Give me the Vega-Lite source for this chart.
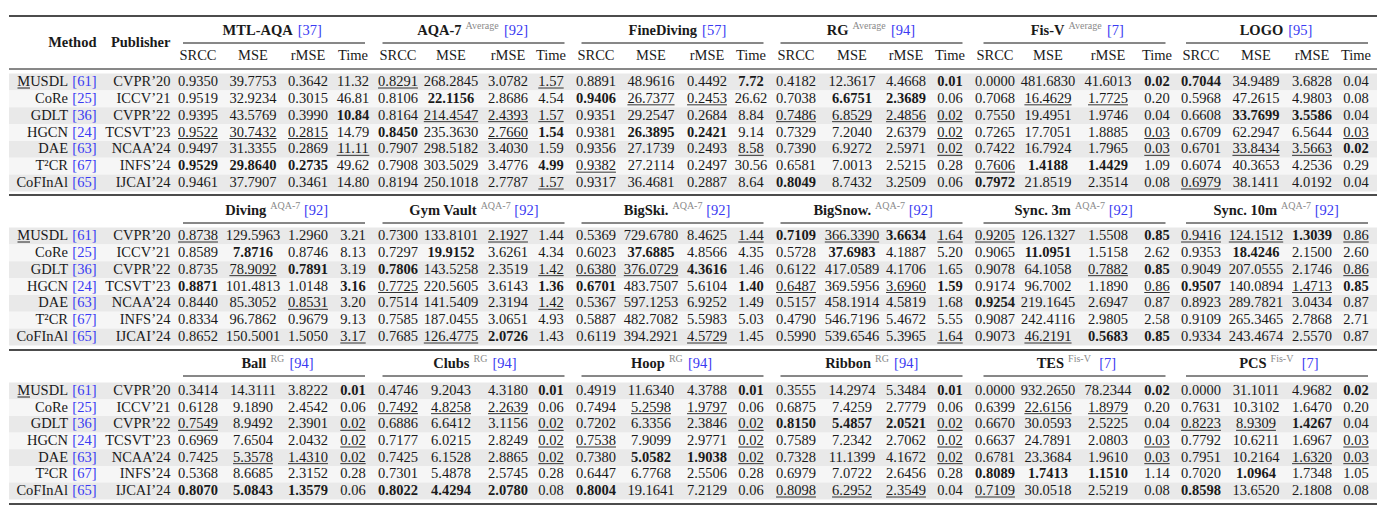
{
"$schema": "https://vega.github.io/schema/vega-lite/v6.json",
"width": 1387, "height": 516, "padding": 0, "autosize": "none",
"background": "white",
"config": {"view": {"stroke": null}, "text": {"font": "Liberation Serif", "fontSize": 14.5, "baseline": "middle", "fill": "#1a1a1a"}},
"resolve": {"scale": {"x": "independent", "y": "independent"}},
"datasets": {
"cells": [
{"ln":2,"c":3,"v":"0.9350"},{"ln":2,"c":4,"v":"39.7753"},{"ln":2,"c":5,"v":"0.3642"},{"ln":2,"c":6,"v":"11.32"},{"ln":2,"c":7,"v":"0.8291","s":"u"},{"ln":2,"c":8,"v":"268.2845"},{"ln":2,"c":9,"v":"3.0782"},{"ln":2,"c":10,"v":"1.57","s":"u"},{"ln":2,"c":11,"v":"0.8891"},{"ln":2,"c":12,"v":"48.9616"},{"ln":2,"c":13,"v":"0.4492"},{"ln":2,"c":14,"v":"7.72","s":"b"},{"ln":2,"c":15,"v":"0.4182"},{"ln":2,"c":16,"v":"12.3617"},{"ln":2,"c":17,"v":"4.4668"},{"ln":2,"c":18,"v":"0.01","s":"b"},{"ln":2,"c":19,"v":"0.0000"},{"ln":2,"c":20,"v":"481.6830"},{"ln":2,"c":21,"v":"41.6013"},{"ln":2,"c":22,"v":"0.02","s":"b"},{"ln":2,"c":23,"v":"0.7044","s":"b"},{"ln":2,"c":24,"v":"34.9489"},{"ln":2,"c":25,"v":"3.6828"},{"ln":2,"c":26,"v":"0.04"},
{"ln":3,"c":3,"v":"0.9519"},{"ln":3,"c":4,"v":"32.9234"},{"ln":3,"c":5,"v":"0.3015"},{"ln":3,"c":6,"v":"46.81"},{"ln":3,"c":7,"v":"0.8106"},{"ln":3,"c":8,"v":"22.1156","s":"b"},{"ln":3,"c":9,"v":"2.8686"},{"ln":3,"c":10,"v":"4.54"},{"ln":3,"c":11,"v":"0.9406","s":"b"},{"ln":3,"c":12,"v":"26.7377","s":"u"},{"ln":3,"c":13,"v":"0.2453","s":"u"},{"ln":3,"c":14,"v":"26.62"},{"ln":3,"c":15,"v":"0.7038"},{"ln":3,"c":16,"v":"6.6751","s":"b"},{"ln":3,"c":17,"v":"2.3689","s":"b"},{"ln":3,"c":18,"v":"0.06"},{"ln":3,"c":19,"v":"0.7068"},{"ln":3,"c":20,"v":"16.4629","s":"u"},{"ln":3,"c":21,"v":"1.7725","s":"u"},{"ln":3,"c":22,"v":"0.20"},{"ln":3,"c":23,"v":"0.5968"},{"ln":3,"c":24,"v":"47.2615"},{"ln":3,"c":25,"v":"4.9803"},{"ln":3,"c":26,"v":"0.08"},
{"ln":4,"c":3,"v":"0.9395"},{"ln":4,"c":4,"v":"43.5769"},{"ln":4,"c":5,"v":"0.3990"},{"ln":4,"c":6,"v":"10.84","s":"b"},{"ln":4,"c":7,"v":"0.8164"},{"ln":4,"c":8,"v":"214.4547","s":"u"},{"ln":4,"c":9,"v":"2.4393","s":"u"},{"ln":4,"c":10,"v":"1.57","s":"u"},{"ln":4,"c":11,"v":"0.9351"},{"ln":4,"c":12,"v":"29.2547"},{"ln":4,"c":13,"v":"0.2684"},{"ln":4,"c":14,"v":"8.84"},{"ln":4,"c":15,"v":"0.7486","s":"u"},{"ln":4,"c":16,"v":"6.8529","s":"u"},{"ln":4,"c":17,"v":"2.4856","s":"u"},{"ln":4,"c":18,"v":"0.02","s":"u"},{"ln":4,"c":19,"v":"0.7550"},{"ln":4,"c":20,"v":"19.4951"},{"ln":4,"c":21,"v":"1.9746"},{"ln":4,"c":22,"v":"0.04"},{"ln":4,"c":23,"v":"0.6608"},{"ln":4,"c":24,"v":"33.7699","s":"b"},{"ln":4,"c":25,"v":"3.5586","s":"b"},{"ln":4,"c":26,"v":"0.04"},
{"ln":5,"c":3,"v":"0.9522","s":"u"},{"ln":5,"c":4,"v":"30.7432","s":"u"},{"ln":5,"c":5,"v":"0.2815","s":"u"},{"ln":5,"c":6,"v":"14.79"},{"ln":5,"c":7,"v":"0.8450","s":"b"},{"ln":5,"c":8,"v":"235.3630"},{"ln":5,"c":9,"v":"2.7660","s":"u"},{"ln":5,"c":10,"v":"1.54","s":"b"},{"ln":5,"c":11,"v":"0.9381"},{"ln":5,"c":12,"v":"26.3895","s":"b"},{"ln":5,"c":13,"v":"0.2421","s":"b"},{"ln":5,"c":14,"v":"9.14"},{"ln":5,"c":15,"v":"0.7329"},{"ln":5,"c":16,"v":"7.2040"},{"ln":5,"c":17,"v":"2.6379"},{"ln":5,"c":18,"v":"0.02","s":"u"},{"ln":5,"c":19,"v":"0.7265"},{"ln":5,"c":20,"v":"17.7051"},{"ln":5,"c":21,"v":"1.8885"},{"ln":5,"c":22,"v":"0.03","s":"u"},{"ln":5,"c":23,"v":"0.6709"},{"ln":5,"c":24,"v":"62.2947"},{"ln":5,"c":25,"v":"6.5644"},{"ln":5,"c":26,"v":"0.03","s":"u"},
{"ln":6,"c":3,"v":"0.9497"},{"ln":6,"c":4,"v":"31.3355"},{"ln":6,"c":5,"v":"0.2869"},{"ln":6,"c":6,"v":"11.11","s":"u"},{"ln":6,"c":7,"v":"0.7907"},{"ln":6,"c":8,"v":"298.5182"},{"ln":6,"c":9,"v":"3.4030"},{"ln":6,"c":10,"v":"1.59"},{"ln":6,"c":11,"v":"0.9356"},{"ln":6,"c":12,"v":"27.1739"},{"ln":6,"c":13,"v":"0.2493"},{"ln":6,"c":14,"v":"8.58","s":"u"},{"ln":6,"c":15,"v":"0.7390"},{"ln":6,"c":16,"v":"6.9272"},{"ln":6,"c":17,"v":"2.5971"},{"ln":6,"c":18,"v":"0.02","s":"u"},{"ln":6,"c":19,"v":"0.7422"},{"ln":6,"c":20,"v":"16.7924"},{"ln":6,"c":21,"v":"1.7965"},{"ln":6,"c":22,"v":"0.03","s":"u"},{"ln":6,"c":23,"v":"0.6701"},{"ln":6,"c":24,"v":"33.8434","s":"u"},{"ln":6,"c":25,"v":"3.5663","s":"u"},{"ln":6,"c":26,"v":"0.02","s":"b"},
{"ln":7,"c":3,"v":"0.9529","s":"b"},{"ln":7,"c":4,"v":"29.8640","s":"b"},{"ln":7,"c":5,"v":"0.2735","s":"b"},{"ln":7,"c":6,"v":"49.62"},{"ln":7,"c":7,"v":"0.7908"},{"ln":7,"c":8,"v":"303.5029"},{"ln":7,"c":9,"v":"3.4776"},{"ln":7,"c":10,"v":"4.99","s":"b"},{"ln":7,"c":11,"v":"0.9382","s":"u"},{"ln":7,"c":12,"v":"27.2114"},{"ln":7,"c":13,"v":"0.2497"},{"ln":7,"c":14,"v":"30.56"},{"ln":7,"c":15,"v":"0.6581"},{"ln":7,"c":16,"v":"7.0013"},{"ln":7,"c":17,"v":"2.5215"},{"ln":7,"c":18,"v":"0.28"},{"ln":7,"c":19,"v":"0.7606","s":"u"},{"ln":7,"c":20,"v":"1.4188","s":"b"},{"ln":7,"c":21,"v":"1.4429","s":"b"},{"ln":7,"c":22,"v":"1.09"},{"ln":7,"c":23,"v":"0.6074"},{"ln":7,"c":24,"v":"40.3653"},{"ln":7,"c":25,"v":"4.2536"},{"ln":7,"c":26,"v":"0.29"},
{"ln":8,"c":3,"v":"0.9461"},{"ln":8,"c":4,"v":"37.7907"},{"ln":8,"c":5,"v":"0.3461"},{"ln":8,"c":6,"v":"14.80"},{"ln":8,"c":7,"v":"0.8194"},{"ln":8,"c":8,"v":"250.1018"},{"ln":8,"c":9,"v":"2.7787"},{"ln":8,"c":10,"v":"1.57","s":"u"},{"ln":8,"c":11,"v":"0.9317"},{"ln":8,"c":12,"v":"36.4681"},{"ln":8,"c":13,"v":"0.2887"},{"ln":8,"c":14,"v":"8.64"},{"ln":8,"c":15,"v":"0.8049","s":"b"},{"ln":8,"c":16,"v":"8.7432"},{"ln":8,"c":17,"v":"3.2509"},{"ln":8,"c":18,"v":"0.06"},{"ln":8,"c":19,"v":"0.7972","s":"b"},{"ln":8,"c":20,"v":"21.8519"},{"ln":8,"c":21,"v":"2.3514"},{"ln":8,"c":22,"v":"0.08"},{"ln":8,"c":23,"v":"0.6979","s":"u"},{"ln":8,"c":24,"v":"38.1411"},{"ln":8,"c":25,"v":"4.0192"},{"ln":8,"c":26,"v":"0.04"},
{"ln":10,"c":3,"v":"0.8738","s":"u"},{"ln":10,"c":4,"v":"129.5963"},{"ln":10,"c":5,"v":"1.2960"},{"ln":10,"c":6,"v":"3.21"},{"ln":10,"c":7,"v":"0.7300"},{"ln":10,"c":8,"v":"133.8101"},{"ln":10,"c":9,"v":"2.1927","s":"u"},{"ln":10,"c":10,"v":"1.44"},{"ln":10,"c":11,"v":"0.5369"},{"ln":10,"c":12,"v":"729.6780"},{"ln":10,"c":13,"v":"8.4625"},{"ln":10,"c":14,"v":"1.44","s":"u"},{"ln":10,"c":15,"v":"0.7109","s":"b"},{"ln":10,"c":16,"v":"366.3390","s":"u"},{"ln":10,"c":17,"v":"3.6634","s":"b"},{"ln":10,"c":18,"v":"1.64","s":"u"},{"ln":10,"c":19,"v":"0.9205","s":"u"},{"ln":10,"c":20,"v":"126.1327"},{"ln":10,"c":21,"v":"1.5508"},{"ln":10,"c":22,"v":"0.85","s":"b"},{"ln":10,"c":23,"v":"0.9416","s":"u"},{"ln":10,"c":24,"v":"124.1512","s":"u"},{"ln":10,"c":25,"v":"1.3039","s":"b"},{"ln":10,"c":26,"v":"0.86","s":"u"},
{"ln":11,"c":3,"v":"0.8589"},{"ln":11,"c":4,"v":"7.8716","s":"b"},{"ln":11,"c":5,"v":"0.8746"},{"ln":11,"c":6,"v":"8.13"},{"ln":11,"c":7,"v":"0.7297"},{"ln":11,"c":8,"v":"19.9152","s":"b"},{"ln":11,"c":9,"v":"3.6261"},{"ln":11,"c":10,"v":"4.34"},{"ln":11,"c":11,"v":"0.6023"},{"ln":11,"c":12,"v":"37.6885","s":"b"},{"ln":11,"c":13,"v":"4.8566"},{"ln":11,"c":14,"v":"4.35"},{"ln":11,"c":15,"v":"0.5728"},{"ln":11,"c":16,"v":"37.6983","s":"b"},{"ln":11,"c":17,"v":"4.1887"},{"ln":11,"c":18,"v":"5.20"},{"ln":11,"c":19,"v":"0.9065"},{"ln":11,"c":20,"v":"11.0951","s":"b"},{"ln":11,"c":21,"v":"1.5158"},{"ln":11,"c":22,"v":"2.62"},{"ln":11,"c":23,"v":"0.9353"},{"ln":11,"c":24,"v":"18.4246","s":"b"},{"ln":11,"c":25,"v":"2.1500"},{"ln":11,"c":26,"v":"2.60"},
{"ln":12,"c":3,"v":"0.8735"},{"ln":12,"c":4,"v":"78.9092","s":"u"},{"ln":12,"c":5,"v":"0.7891","s":"b"},{"ln":12,"c":6,"v":"3.19"},{"ln":12,"c":7,"v":"0.7806","s":"b"},{"ln":12,"c":8,"v":"143.5258"},{"ln":12,"c":9,"v":"2.3519"},{"ln":12,"c":10,"v":"1.42","s":"u"},{"ln":12,"c":11,"v":"0.6380","s":"u"},{"ln":12,"c":12,"v":"376.0729","s":"u"},{"ln":12,"c":13,"v":"4.3616","s":"b"},{"ln":12,"c":14,"v":"1.46"},{"ln":12,"c":15,"v":"0.6122"},{"ln":12,"c":16,"v":"417.0589"},{"ln":12,"c":17,"v":"4.1706"},{"ln":12,"c":18,"v":"1.65"},{"ln":12,"c":19,"v":"0.9078"},{"ln":12,"c":20,"v":"64.1058"},{"ln":12,"c":21,"v":"0.7882","s":"u"},{"ln":12,"c":22,"v":"0.85","s":"b"},{"ln":12,"c":23,"v":"0.9049"},{"ln":12,"c":24,"v":"207.0555"},{"ln":12,"c":25,"v":"2.1746"},{"ln":12,"c":26,"v":"0.86","s":"u"},
{"ln":13,"c":3,"v":"0.8871","s":"b"},{"ln":13,"c":4,"v":"101.4813"},{"ln":13,"c":5,"v":"1.0148"},{"ln":13,"c":6,"v":"3.16","s":"b"},{"ln":13,"c":7,"v":"0.7725","s":"u"},{"ln":13,"c":8,"v":"220.5605"},{"ln":13,"c":9,"v":"3.6143"},{"ln":13,"c":10,"v":"1.36","s":"b"},{"ln":13,"c":11,"v":"0.6701","s":"b"},{"ln":13,"c":12,"v":"483.7507"},{"ln":13,"c":13,"v":"5.6104"},{"ln":13,"c":14,"v":"1.40","s":"b"},{"ln":13,"c":15,"v":"0.6487","s":"u"},{"ln":13,"c":16,"v":"369.5956"},{"ln":13,"c":17,"v":"3.6960","s":"u"},{"ln":13,"c":18,"v":"1.59","s":"b"},{"ln":13,"c":19,"v":"0.9174"},{"ln":13,"c":20,"v":"96.7002"},{"ln":13,"c":21,"v":"1.1890"},{"ln":13,"c":22,"v":"0.86","s":"u"},{"ln":13,"c":23,"v":"0.9507","s":"b"},{"ln":13,"c":24,"v":"140.0894"},{"ln":13,"c":25,"v":"1.4713","s":"u"},{"ln":13,"c":26,"v":"0.85","s":"b"},
{"ln":14,"c":3,"v":"0.8440"},{"ln":14,"c":4,"v":"85.3052"},{"ln":14,"c":5,"v":"0.8531","s":"u"},{"ln":14,"c":6,"v":"3.20"},{"ln":14,"c":7,"v":"0.7514"},{"ln":14,"c":8,"v":"141.5409"},{"ln":14,"c":9,"v":"2.3194"},{"ln":14,"c":10,"v":"1.42","s":"u"},{"ln":14,"c":11,"v":"0.5367"},{"ln":14,"c":12,"v":"597.1253"},{"ln":14,"c":13,"v":"6.9252"},{"ln":14,"c":14,"v":"1.49"},{"ln":14,"c":15,"v":"0.5157"},{"ln":14,"c":16,"v":"458.1914"},{"ln":14,"c":17,"v":"4.5819"},{"ln":14,"c":18,"v":"1.68"},{"ln":14,"c":19,"v":"0.9254","s":"b"},{"ln":14,"c":20,"v":"219.1645"},{"ln":14,"c":21,"v":"2.6947"},{"ln":14,"c":22,"v":"0.87"},{"ln":14,"c":23,"v":"0.8923"},{"ln":14,"c":24,"v":"289.7821"},{"ln":14,"c":25,"v":"3.0434"},{"ln":14,"c":26,"v":"0.87"},
{"ln":15,"c":3,"v":"0.8334"},{"ln":15,"c":4,"v":"96.7862"},{"ln":15,"c":5,"v":"0.9679"},{"ln":15,"c":6,"v":"9.13"},{"ln":15,"c":7,"v":"0.7585"},{"ln":15,"c":8,"v":"187.0455"},{"ln":15,"c":9,"v":"3.0651"},{"ln":15,"c":10,"v":"4.93"},{"ln":15,"c":11,"v":"0.5887"},{"ln":15,"c":12,"v":"482.7082"},{"ln":15,"c":13,"v":"5.5983"},{"ln":15,"c":14,"v":"5.03"},{"ln":15,"c":15,"v":"0.4790"},{"ln":15,"c":16,"v":"546.7196"},{"ln":15,"c":17,"v":"5.4672"},{"ln":15,"c":18,"v":"5.55"},{"ln":15,"c":19,"v":"0.9087"},{"ln":15,"c":20,"v":"242.4116"},{"ln":15,"c":21,"v":"2.9805"},{"ln":15,"c":22,"v":"2.58"},{"ln":15,"c":23,"v":"0.9109"},{"ln":15,"c":24,"v":"265.3465"},{"ln":15,"c":25,"v":"2.7868"},{"ln":15,"c":26,"v":"2.71"},
{"ln":16,"c":3,"v":"0.8652"},{"ln":16,"c":4,"v":"150.5001"},{"ln":16,"c":5,"v":"1.5050"},{"ln":16,"c":6,"v":"3.17","s":"u"},{"ln":16,"c":7,"v":"0.7685"},{"ln":16,"c":8,"v":"126.4775","s":"u"},{"ln":16,"c":9,"v":"2.0726","s":"b"},{"ln":16,"c":10,"v":"1.43"},{"ln":16,"c":11,"v":"0.6119"},{"ln":16,"c":12,"v":"394.2921"},{"ln":16,"c":13,"v":"4.5729","s":"u"},{"ln":16,"c":14,"v":"1.45"},{"ln":16,"c":15,"v":"0.5990"},{"ln":16,"c":16,"v":"539.6546"},{"ln":16,"c":17,"v":"5.3965"},{"ln":16,"c":18,"v":"1.64","s":"u"},{"ln":16,"c":19,"v":"0.9073"},{"ln":16,"c":20,"v":"46.2191","s":"u"},{"ln":16,"c":21,"v":"0.5683","s":"b"},{"ln":16,"c":22,"v":"0.85","s":"b"},{"ln":16,"c":23,"v":"0.9334"},{"ln":16,"c":24,"v":"243.4674"},{"ln":16,"c":25,"v":"2.5570"},{"ln":16,"c":26,"v":"0.87"},
{"ln":18,"c":3,"v":"0.3414"},{"ln":18,"c":4,"v":"14.3111"},{"ln":18,"c":5,"v":"3.8222"},{"ln":18,"c":6,"v":"0.01","s":"b"},{"ln":18,"c":7,"v":"0.4746"},{"ln":18,"c":8,"v":"9.2043"},{"ln":18,"c":9,"v":"4.3180"},{"ln":18,"c":10,"v":"0.01","s":"b"},{"ln":18,"c":11,"v":"0.4919"},{"ln":18,"c":12,"v":"11.6340"},{"ln":18,"c":13,"v":"4.3788"},{"ln":18,"c":14,"v":"0.01","s":"b"},{"ln":18,"c":15,"v":"0.3555"},{"ln":18,"c":16,"v":"14.2974"},{"ln":18,"c":17,"v":"5.3484"},{"ln":18,"c":18,"v":"0.01","s":"b"},{"ln":18,"c":19,"v":"0.0000"},{"ln":18,"c":20,"v":"932.2650"},{"ln":18,"c":21,"v":"78.2344"},{"ln":18,"c":22,"v":"0.02","s":"b"},{"ln":18,"c":23,"v":"0.0000"},{"ln":18,"c":24,"v":"31.1011"},{"ln":18,"c":25,"v":"4.9682"},{"ln":18,"c":26,"v":"0.02","s":"b"},
{"ln":19,"c":3,"v":"0.6128"},{"ln":19,"c":4,"v":"9.1890"},{"ln":19,"c":5,"v":"2.4542"},{"ln":19,"c":6,"v":"0.06"},{"ln":19,"c":7,"v":"0.7492","s":"u"},{"ln":19,"c":8,"v":"4.8258","s":"u"},{"ln":19,"c":9,"v":"2.2639","s":"u"},{"ln":19,"c":10,"v":"0.06"},{"ln":19,"c":11,"v":"0.7494"},{"ln":19,"c":12,"v":"5.2598","s":"u"},{"ln":19,"c":13,"v":"1.9797","s":"u"},{"ln":19,"c":14,"v":"0.06"},{"ln":19,"c":15,"v":"0.6875"},{"ln":19,"c":16,"v":"7.4259"},{"ln":19,"c":17,"v":"2.7779"},{"ln":19,"c":18,"v":"0.06"},{"ln":19,"c":19,"v":"0.6399"},{"ln":19,"c":20,"v":"22.6156","s":"u"},{"ln":19,"c":21,"v":"1.8979","s":"u"},{"ln":19,"c":22,"v":"0.20"},{"ln":19,"c":23,"v":"0.7631"},{"ln":19,"c":24,"v":"10.3102"},{"ln":19,"c":25,"v":"1.6470"},{"ln":19,"c":26,"v":"0.20"},
{"ln":20,"c":3,"v":"0.7549","s":"u"},{"ln":20,"c":4,"v":"8.9492"},{"ln":20,"c":5,"v":"2.3901"},{"ln":20,"c":6,"v":"0.02","s":"u"},{"ln":20,"c":7,"v":"0.6886"},{"ln":20,"c":8,"v":"6.6412"},{"ln":20,"c":9,"v":"3.1156"},{"ln":20,"c":10,"v":"0.02","s":"u"},{"ln":20,"c":11,"v":"0.7202"},{"ln":20,"c":12,"v":"6.3356"},{"ln":20,"c":13,"v":"2.3846"},{"ln":20,"c":14,"v":"0.02","s":"u"},{"ln":20,"c":15,"v":"0.8150","s":"b"},{"ln":20,"c":16,"v":"5.4857","s":"b"},{"ln":20,"c":17,"v":"2.0521","s":"b"},{"ln":20,"c":18,"v":"0.02","s":"u"},{"ln":20,"c":19,"v":"0.6670"},{"ln":20,"c":20,"v":"30.0593"},{"ln":20,"c":21,"v":"2.5225"},{"ln":20,"c":22,"v":"0.04"},{"ln":20,"c":23,"v":"0.8223","s":"u"},{"ln":20,"c":24,"v":"8.9309","s":"u"},{"ln":20,"c":25,"v":"1.4267","s":"b"},{"ln":20,"c":26,"v":"0.04"},
{"ln":21,"c":3,"v":"0.6969"},{"ln":21,"c":4,"v":"7.6504"},{"ln":21,"c":5,"v":"2.0432"},{"ln":21,"c":6,"v":"0.02","s":"u"},{"ln":21,"c":7,"v":"0.7177"},{"ln":21,"c":8,"v":"6.0215"},{"ln":21,"c":9,"v":"2.8249"},{"ln":21,"c":10,"v":"0.02","s":"u"},{"ln":21,"c":11,"v":"0.7538","s":"u"},{"ln":21,"c":12,"v":"7.9099"},{"ln":21,"c":13,"v":"2.9771"},{"ln":21,"c":14,"v":"0.02","s":"u"},{"ln":21,"c":15,"v":"0.7589"},{"ln":21,"c":16,"v":"7.2342"},{"ln":21,"c":17,"v":"2.7062"},{"ln":21,"c":18,"v":"0.02","s":"u"},{"ln":21,"c":19,"v":"0.6637"},{"ln":21,"c":20,"v":"24.7891"},{"ln":21,"c":21,"v":"2.0803"},{"ln":21,"c":22,"v":"0.03","s":"u"},{"ln":21,"c":23,"v":"0.7792"},{"ln":21,"c":24,"v":"10.6211"},{"ln":21,"c":25,"v":"1.6967"},{"ln":21,"c":26,"v":"0.03","s":"u"},
{"ln":22,"c":3,"v":"0.7425"},{"ln":22,"c":4,"v":"5.3578","s":"u"},{"ln":22,"c":5,"v":"1.4310","s":"u"},{"ln":22,"c":6,"v":"0.02","s":"u"},{"ln":22,"c":7,"v":"0.7425"},{"ln":22,"c":8,"v":"6.1528"},{"ln":22,"c":9,"v":"2.8865"},{"ln":22,"c":10,"v":"0.02","s":"u"},{"ln":22,"c":11,"v":"0.7380"},{"ln":22,"c":12,"v":"5.0582","s":"b"},{"ln":22,"c":13,"v":"1.9038","s":"b"},{"ln":22,"c":14,"v":"0.02","s":"u"},{"ln":22,"c":15,"v":"0.7328"},{"ln":22,"c":16,"v":"11.1399"},{"ln":22,"c":17,"v":"4.1672"},{"ln":22,"c":18,"v":"0.02","s":"u"},{"ln":22,"c":19,"v":"0.6781"},{"ln":22,"c":20,"v":"23.3684"},{"ln":22,"c":21,"v":"1.9610"},{"ln":22,"c":22,"v":"0.03","s":"u"},{"ln":22,"c":23,"v":"0.7951"},{"ln":22,"c":24,"v":"10.2164"},{"ln":22,"c":25,"v":"1.6320","s":"u"},{"ln":22,"c":26,"v":"0.03","s":"u"},
{"ln":23,"c":3,"v":"0.5368"},{"ln":23,"c":4,"v":"8.6685"},{"ln":23,"c":5,"v":"2.3152"},{"ln":23,"c":6,"v":"0.28"},{"ln":23,"c":7,"v":"0.7301"},{"ln":23,"c":8,"v":"5.4878"},{"ln":23,"c":9,"v":"2.5745"},{"ln":23,"c":10,"v":"0.28"},{"ln":23,"c":11,"v":"0.6447"},{"ln":23,"c":12,"v":"6.7768"},{"ln":23,"c":13,"v":"2.5506"},{"ln":23,"c":14,"v":"0.28"},{"ln":23,"c":15,"v":"0.6979"},{"ln":23,"c":16,"v":"7.0722"},{"ln":23,"c":17,"v":"2.6456"},{"ln":23,"c":18,"v":"0.28"},{"ln":23,"c":19,"v":"0.8089","s":"b"},{"ln":23,"c":20,"v":"1.7413","s":"b"},{"ln":23,"c":21,"v":"1.1510","s":"b"},{"ln":23,"c":22,"v":"1.14"},{"ln":23,"c":23,"v":"0.7020"},{"ln":23,"c":24,"v":"1.0964","s":"b"},{"ln":23,"c":25,"v":"1.7348"},{"ln":23,"c":26,"v":"1.05"},
{"ln":24,"c":3,"v":"0.8070","s":"b"},{"ln":24,"c":4,"v":"5.0843","s":"b"},{"ln":24,"c":5,"v":"1.3579","s":"b"},{"ln":24,"c":6,"v":"0.06"},{"ln":24,"c":7,"v":"0.8022","s":"b"},{"ln":24,"c":8,"v":"4.4294","s":"b"},{"ln":24,"c":9,"v":"2.0780","s":"b"},{"ln":24,"c":10,"v":"0.08"},{"ln":24,"c":11,"v":"0.8004","s":"b"},{"ln":24,"c":12,"v":"19.1641"},{"ln":24,"c":13,"v":"7.2129"},{"ln":24,"c":14,"v":"0.06"},{"ln":24,"c":15,"v":"0.8098","s":"u"},{"ln":24,"c":16,"v":"6.2952","s":"u"},{"ln":24,"c":17,"v":"2.3549","s":"u"},{"ln":24,"c":18,"v":"0.04"},{"ln":24,"c":19,"v":"0.7109","s":"u"},{"ln":24,"c":20,"v":"30.0518"},{"ln":24,"c":21,"v":"2.5219"},{"ln":24,"c":22,"v":"0.08"},{"ln":24,"c":23,"v":"0.8598","s":"b"},{"ln":24,"c":24,"v":"13.6520"},{"ln":24,"c":25,"v":"2.1808"},{"ln":24,"c":26,"v":"0.08"}
],
"methods": [
{"ln":2,"r":0,"m":"MUSDL","ref":"[61]","pub":"CVPR’20"},{"ln":3,"r":1,"m":"CoRe","ref":"[25]","pub":"ICCV’21"},{"ln":4,"r":2,"m":"GDLT","ref":"[36]","pub":"CVPR’22"},{"ln":5,"r":3,"m":"HGCN","ref":"[24]","pub":"TCSVT’23"},{"ln":6,"r":4,"m":"DAE","ref":"[63]","pub":"NCAA’24"},{"ln":7,"r":5,"m":"T²CR","ref":"[67]","pub":"INFS’24"},{"ln":8,"r":6,"m":"CoFInAl","ref":"[65]","pub":"IJCAI’24"},
{"ln":10,"r":0,"m":"MUSDL","ref":"[61]","pub":"CVPR’20"},{"ln":11,"r":1,"m":"CoRe","ref":"[25]","pub":"ICCV’21"},{"ln":12,"r":2,"m":"GDLT","ref":"[36]","pub":"CVPR’22"},{"ln":13,"r":3,"m":"HGCN","ref":"[24]","pub":"TCSVT’23"},{"ln":14,"r":4,"m":"DAE","ref":"[63]","pub":"NCAA’24"},{"ln":15,"r":5,"m":"T²CR","ref":"[67]","pub":"INFS’24"},{"ln":16,"r":6,"m":"CoFInAl","ref":"[65]","pub":"IJCAI’24"},
{"ln":18,"r":0,"m":"MUSDL","ref":"[61]","pub":"CVPR’20"},{"ln":19,"r":1,"m":"CoRe","ref":"[25]","pub":"ICCV’21"},{"ln":20,"r":2,"m":"GDLT","ref":"[36]","pub":"CVPR’22"},{"ln":21,"r":3,"m":"HGCN","ref":"[24]","pub":"TCSVT’23"},{"ln":22,"r":4,"m":"DAE","ref":"[63]","pub":"NCAA’24"},{"ln":23,"r":5,"m":"T²CR","ref":"[67]","pub":"INFS’24"},{"ln":24,"r":6,"m":"CoFInAl","ref":"[65]","pub":"IJCAI’24"}
],
"titles": [
{"ln":0,"g":0,"name":"MTL-AQA","sup":"","ref":"[37]"},{"ln":0,"g":1,"name":"AQA-7","sup":"Average","ref":"[92]"},{"ln":0,"g":2,"name":"FineDiving","sup":"","ref":"[57]"},{"ln":0,"g":3,"name":"RG","sup":"Average","ref":"[94]"},{"ln":0,"g":4,"name":"Fis-V","sup":"Average","ref":"[7]"},{"ln":0,"g":5,"name":"LOGO","sup":"","ref":"[95]"},
{"ln":9,"g":0,"name":"Diving","sup":"AQA-7","ref":"[92]"},{"ln":9,"g":1,"name":"Gym Vault","sup":"AQA-7","ref":"[92]"},{"ln":9,"g":2,"name":"BigSki.","sup":"AQA-7","ref":"[92]"},{"ln":9,"g":3,"name":"BigSnow.","sup":"AQA-7","ref":"[92]"},{"ln":9,"g":4,"name":"Sync. 3m","sup":"AQA-7","ref":"[92]"},{"ln":9,"g":5,"name":"Sync. 10m","sup":"AQA-7","ref":"[92]"},
{"ln":17,"g":0,"name":"Ball","sup":"RG","ref":"[94]"},{"ln":17,"g":1,"name":"Clubs","sup":"RG","ref":"[94]"},{"ln":17,"g":2,"name":"Hoop","sup":"RG","ref":"[94]"},{"ln":17,"g":3,"name":"Ribbon","sup":"RG","ref":"[94]"},{"ln":17,"g":4,"name":"TES","sup":"Fis-V","ref":"[7]"},{"ln":17,"g":5,"name":"PCS","sup":"Fis-V","ref":"[7]"}
],
"subs": [
{"ln":1,"c":3,"t":"SRCC"},{"ln":1,"c":4,"t":"MSE"},{"ln":1,"c":5,"t":"rMSE"},{"ln":1,"c":6,"t":"Time"},
{"ln":1,"c":7,"t":"SRCC"},{"ln":1,"c":8,"t":"MSE"},{"ln":1,"c":9,"t":"rMSE"},{"ln":1,"c":10,"t":"Time"},
{"ln":1,"c":11,"t":"SRCC"},{"ln":1,"c":12,"t":"MSE"},{"ln":1,"c":13,"t":"rMSE"},{"ln":1,"c":14,"t":"Time"},
{"ln":1,"c":15,"t":"SRCC"},{"ln":1,"c":16,"t":"MSE"},{"ln":1,"c":17,"t":"rMSE"},{"ln":1,"c":18,"t":"Time"},
{"ln":1,"c":19,"t":"SRCC"},{"ln":1,"c":20,"t":"MSE"},{"ln":1,"c":21,"t":"rMSE"},{"ln":1,"c":22,"t":"Time"},
{"ln":1,"c":23,"t":"SRCC"},{"ln":1,"c":24,"t":"MSE"},{"ln":1,"c":25,"t":"rMSE"},{"ln":1,"c":26,"t":"Time"}
],
"heads": [{"c":1,"t":"Method"},{"c":2,"t":"Publisher"}]
},
"layer": [
{"data":{"name":"methods"},"mark":{"type":"rect","yOffset":-8.45,"y2Offset":8.45},
 "encoding":{"x":{"datum":-1,"type":"quantitative","axis":null,"scale":{"type":"linear","domain":[-1,0,1,2,3,4,5,6,7,8,9,10,11,12,13,14,15,16,17,18,19,20,21,22,23,24,25,26,27],"range":[9,68,96.5,170.5,198,253,308,353,398,451,508,551,596,651,707,751,796,852,906,950,995,1048,1108,1157,1201,1256,1312,1356,1377],"nice":false,"zero":false}},"x2":{"datum":27},
 "y":{"field":"ln","type":"quantitative","axis":null,"scale":{"type":"linear","domain":[-1,0,1,2,8,9,10,16,17,18,24,25],"range":[16,31,56,82,183,211,236,337,364,391,491,504],"nice":false,"zero":false}},"y2":{"field":"ln"},
 "fill":{"condition":{"test":"datum.r % 2 == 0","value":"#e9e9e9"},"value":"#f6f6f6"}}},
{"data":{"values":[{}]},"mark":{"type":"rule","strokeWidth":1.6,"color":"#111"},
 "encoding":{"x":{"datum":-1,"type":"quantitative","axis":null,"scale":{"type":"linear","domain":[-1,27],"range":[9,1377],"nice":false,"zero":false}},"x2":{"datum":27},
 "y":{"datum":-1,"type":"quantitative","axis":null,"scale":{"type":"linear","domain":[-1,0,1,2,8,9,10,16,17,18,24,25],"range":[16,31,56,82,183,211,236,337,364,391,491,504],"nice":false,"zero":false}}}},
{"data":{"values":[{}]},"mark":{"type":"rule","strokeWidth":1,"color":"#111"},
 "encoding":{"x":{"datum":-1,"type":"quantitative","axis":null,"scale":{"type":"linear","domain":[-1,27],"range":[9,1377],"nice":false,"zero":false}},"x2":{"datum":27},
 "y":{"datum":1.5,"type":"quantitative","axis":null,"scale":{"type":"linear","domain":[-1,0,1,2,8,9,10,16,17,18,24,25],"range":[16,31,56,82,183,211,236,337,364,391,491,504],"nice":false,"zero":false}}}},
{"data":{"values":[{}]},"mark":{"type":"rule","strokeWidth":1.6,"color":"#111"},
 "encoding":{"x":{"datum":-1,"type":"quantitative","axis":null,"scale":{"type":"linear","domain":[-1,27],"range":[9,1377],"nice":false,"zero":false}},"x2":{"datum":27},
 "y":{"datum":8.43,"type":"quantitative","axis":null,"scale":{"type":"linear","domain":[-1,0,1,2,8,9,10,16,17,18,24,25],"range":[16,31,56,82,183,211,236,337,364,391,491,504],"nice":false,"zero":false}}}},
{"data":{"values":[{}]},"mark":{"type":"rule","strokeWidth":1.6,"color":"#111"},
 "encoding":{"x":{"datum":-1,"type":"quantitative","axis":null,"scale":{"type":"linear","domain":[-1,27],"range":[9,1377],"nice":false,"zero":false}},"x2":{"datum":27},
 "y":{"datum":16.48,"type":"quantitative","axis":null,"scale":{"type":"linear","domain":[-1,0,1,2,8,9,10,16,17,18,24,25],"range":[16,31,56,82,183,211,236,337,364,391,491,504],"nice":false,"zero":false}}}},
{"data":{"values":[{}]},"mark":{"type":"rule","strokeWidth":1.6,"color":"#111"},
 "encoding":{"x":{"datum":-1,"type":"quantitative","axis":null,"scale":{"type":"linear","domain":[-1,27],"range":[9,1377],"nice":false,"zero":false}},"x2":{"datum":27},
 "y":{"datum":25,"type":"quantitative","axis":null,"scale":{"type":"linear","domain":[-1,0,1,2,8,9,10,16,17,18,24,25],"range":[16,31,56,82,183,211,236,337,364,391,491,504],"nice":false,"zero":false}}}},
{"data":{"name":"titles"},"mark":{"type":"rule","strokeWidth":1,"color":"#111","xOffset":-91,"x2Offset":91,"yOffset":12},
 "encoding":{"x":{"field":"g","type":"quantitative","axis":null,"scale":{"type":"linear","domain":[0,1,2,3,4,5],"range":[274,473.5,672.5,871.5,1074.5,1277],"nice":false,"zero":false}},"x2":{"field":"g"},
 "y":{"field":"ln","type":"quantitative","axis":null,"scale":{"type":"linear","domain":[-1,0,1,2,8,9,10,16,17,18,24,25],"range":[16,31,56,82,183,211,236,337,364,391,491,504],"nice":false,"zero":false}}}},
{"data":{"name":"heads"},"mark":{"type":"text","fontWeight":"bold","align":"right"},
 "encoding":{"x":{"field":"c","type":"quantitative","axis":null,"scale":{"type":"linear","domain":[-1,0,1,2,3,4,5,6,7,8,9,10,11,12,13,14,15,16,17,18,19,20,21,22,23,24,25,26,27],"range":[9,68,96.5,170.5,198,253,308,353,398,451,508,551,596,651,707,751,796,852,906,950,995,1048,1108,1157,1201,1256,1312,1356,1377],"nice":false,"zero":false}},
 "y":{"datum":0.48,"type":"quantitative","axis":null,"scale":{"type":"linear","domain":[-1,0,1,2,8,9,10,16,17,18,24,25],"range":[16,31,56,82,183,211,236,337,364,391,491,504],"nice":false,"zero":false}},
 "text":{"field":"t","type":"nominal"}}},
{"data":{"name":"subs"},"mark":{"type":"text","align":"center"},
 "encoding":{"x":{"field":"c","type":"quantitative","axis":null,"scale":{"type":"linear","domain":[-1,0,1,2,3,4,5,6,7,8,9,10,11,12,13,14,15,16,17,18,19,20,21,22,23,24,25,26,27],"range":[9,68,96.5,170.5,198,253,308,353,398,451,508,551,596,651,707,751,796,852,906,950,995,1048,1108,1157,1201,1256,1312,1356,1377],"nice":false,"zero":false}},
 "y":{"field":"ln","type":"quantitative","axis":null,"scale":{"type":"linear","domain":[-1,0,1,2,8,9,10,16,17,18,24,25],"range":[16,31,56,82,183,211,236,337,364,391,491,504],"nice":false,"zero":false}},
 "text":{"field":"t","type":"nominal"}}},
{"data":{"name":"titles"},"mark":{"type":"text","fontWeight":"bold","align":"right",
  "dx":{"expr":"((10.4*(length(datum.name)-length(replace(datum.name,/[A-Z]/g,'')))+7.2*(length(datum.name)-length(replace(datum.name,/[a-z0-9]/g,'')))+4.2*length(replace(datum.name,/[A-Za-z0-9]/g,''))) - (datum.sup ? 9+(7*(length(datum.sup)-length(replace(datum.sup,/[A-Z]/g,'')))+4.4*(length(datum.sup)-length(replace(datum.sup,/[a-z0-9]/g,'')))+3.3*length(replace(datum.sup,/[A-Za-z0-9]/g,''))) : 5) - (9.7+7.25*(length(datum.ref)-2)))/2"}},
 "encoding":{"x":{"field":"g","type":"quantitative","axis":null,"scale":{"type":"linear","domain":[0,1,2,3,4,5],"range":[274,473.5,672.5,871.5,1074.5,1277],"nice":false,"zero":false}},
 "y":{"field":"ln","type":"quantitative","axis":null,"scale":{"type":"linear","domain":[-1,0,1,2,8,9,10,16,17,18,24,25],"range":[16,31,56,82,183,211,236,337,364,391,491,504],"nice":false,"zero":false}},
 "text":{"field":"name","type":"nominal"}}},
{"data":{"name":"titles"},"transform":[{"filter":"datum.sup != ''"}],"mark":{"type":"text","align":"left","fontSize":10,"fill":"#8a8a8a","dy":-5,
  "dx":{"expr":"((10.4*(length(datum.name)-length(replace(datum.name,/[A-Z]/g,'')))+7.2*(length(datum.name)-length(replace(datum.name,/[a-z0-9]/g,'')))+4.2*length(replace(datum.name,/[A-Za-z0-9]/g,''))) - (datum.sup ? 9+(7*(length(datum.sup)-length(replace(datum.sup,/[A-Z]/g,'')))+4.4*(length(datum.sup)-length(replace(datum.sup,/[a-z0-9]/g,'')))+3.3*length(replace(datum.sup,/[A-Za-z0-9]/g,''))) : 5) - (9.7+7.25*(length(datum.ref)-2)))/2 + 4"}},
 "encoding":{"x":{"field":"g","type":"quantitative","axis":null,"scale":{"type":"linear","domain":[0,1,2,3,4,5],"range":[274,473.5,672.5,871.5,1074.5,1277],"nice":false,"zero":false}},
 "y":{"field":"ln","type":"quantitative","axis":null,"scale":{"type":"linear","domain":[-1,0,1,2,8,9,10,16,17,18,24,25],"range":[16,31,56,82,183,211,236,337,364,391,491,504],"nice":false,"zero":false}},
 "text":{"field":"sup","type":"nominal"}}},
{"data":{"name":"titles"},"mark":{"type":"text","align":"left","fill":"#3a3af2",
  "dx":{"expr":"((10.4*(length(datum.name)-length(replace(datum.name,/[A-Z]/g,'')))+7.2*(length(datum.name)-length(replace(datum.name,/[a-z0-9]/g,'')))+4.2*length(replace(datum.name,/[A-Za-z0-9]/g,''))) - (datum.sup ? 9+(7*(length(datum.sup)-length(replace(datum.sup,/[A-Z]/g,'')))+4.4*(length(datum.sup)-length(replace(datum.sup,/[a-z0-9]/g,'')))+3.3*length(replace(datum.sup,/[A-Za-z0-9]/g,''))) : 5) - (9.7+7.25*(length(datum.ref)-2)))/2 + (datum.sup ? 9+(7*(length(datum.sup)-length(replace(datum.sup,/[A-Z]/g,'')))+4.4*(length(datum.sup)-length(replace(datum.sup,/[a-z0-9]/g,'')))+3.3*length(replace(datum.sup,/[A-Za-z0-9]/g,''))) : 5)"}},
 "encoding":{"x":{"field":"g","type":"quantitative","axis":null,"scale":{"type":"linear","domain":[0,1,2,3,4,5],"range":[274,473.5,672.5,871.5,1074.5,1277],"nice":false,"zero":false}},
 "y":{"field":"ln","type":"quantitative","axis":null,"scale":{"type":"linear","domain":[-1,0,1,2,8,9,10,16,17,18,24,25],"range":[16,31,56,82,183,211,236,337,364,391,491,504],"nice":false,"zero":false}},
 "text":{"field":"ref","type":"nominal"}}},
{"data":{"name":"methods"},"mark":{"type":"text","align":"right"},
 "encoding":{"x":{"datum":0,"type":"quantitative","axis":null,"scale":{"type":"linear","domain":[-1,0,1,2,3,4,5,6,7,8,9,10,11,12,13,14,15,16,17,18,19,20,21,22,23,24,25,26,27],"range":[9,68,96.5,170.5,198,253,308,353,398,451,508,551,596,651,707,751,796,852,906,950,995,1048,1108,1157,1201,1256,1312,1356,1377],"nice":false,"zero":false}},
 "y":{"field":"ln","type":"quantitative","axis":null,"scale":{"type":"linear","domain":[-1,0,1,2,8,9,10,16,17,18,24,25],"range":[16,31,56,82,183,211,236,337,364,391,491,504],"nice":false,"zero":false}},
 "text":{"field":"m","type":"nominal"}}},
{"data":{"name":"methods"},"mark":{"type":"text","align":"right","fill":"#3a3af2"},
 "encoding":{"x":{"datum":1,"type":"quantitative","axis":null,"scale":{"type":"linear","domain":[-1,0,1,2,3,4,5,6,7,8,9,10,11,12,13,14,15,16,17,18,19,20,21,22,23,24,25,26,27],"range":[9,68,96.5,170.5,198,253,308,353,398,451,508,551,596,651,707,751,796,852,906,950,995,1048,1108,1157,1201,1256,1312,1356,1377],"nice":false,"zero":false}},
 "y":{"field":"ln","type":"quantitative","axis":null,"scale":{"type":"linear","domain":[-1,0,1,2,8,9,10,16,17,18,24,25],"range":[16,31,56,82,183,211,236,337,364,391,491,504],"nice":false,"zero":false}},
 "text":{"field":"ref","type":"nominal"}}},
{"data":{"name":"methods"},"mark":{"type":"text","align":"right"},
 "encoding":{"x":{"datum":2,"type":"quantitative","axis":null,"scale":{"type":"linear","domain":[-1,0,1,2,3,4,5,6,7,8,9,10,11,12,13,14,15,16,17,18,19,20,21,22,23,24,25,26,27],"range":[9,68,96.5,170.5,198,253,308,353,398,451,508,551,596,651,707,751,796,852,906,950,995,1048,1108,1157,1201,1256,1312,1356,1377],"nice":false,"zero":false}},
 "y":{"field":"ln","type":"quantitative","axis":null,"scale":{"type":"linear","domain":[-1,0,1,2,8,9,10,16,17,18,24,25],"range":[16,31,56,82,183,211,236,337,364,391,491,504],"nice":false,"zero":false}},
 "text":{"field":"pub","type":"nominal"}}},
{"data":{"name":"methods"},"transform":[{"filter":"datum.m == 'MUSDL'"}],"mark":{"type":"rule","strokeWidth":1,"color":"#222","xOffset":-50.5,"x2Offset":-38,"yOffset":6},
 "encoding":{"x":{"datum":0,"type":"quantitative","axis":null,"scale":{"type":"linear","domain":[-1,0,1,2,3,4,5,6,7,8,9,10,11,12,13,14,15,16,17,18,19,20,21,22,23,24,25,26,27],"range":[9,68,96.5,170.5,198,253,308,353,398,451,508,551,596,651,707,751,796,852,906,950,995,1048,1108,1157,1201,1256,1312,1356,1377],"nice":false,"zero":false}},"x2":{"datum":0},
 "y":{"field":"ln","type":"quantitative","axis":null,"scale":{"type":"linear","domain":[-1,0,1,2,8,9,10,16,17,18,24,25],"range":[16,31,56,82,183,211,236,337,364,391,491,504],"nice":false,"zero":false}}}},
{"data":{"name":"cells"},"transform":[{"filter":"datum.s != 'b'"}],"mark":{"type":"text","align":"center"},
 "encoding":{"x":{"field":"c","type":"quantitative","axis":null,"scale":{"type":"linear","domain":[-1,0,1,2,3,4,5,6,7,8,9,10,11,12,13,14,15,16,17,18,19,20,21,22,23,24,25,26,27],"range":[9,68,96.5,170.5,198,253,308,353,398,451,508,551,596,651,707,751,796,852,906,950,995,1048,1108,1157,1201,1256,1312,1356,1377],"nice":false,"zero":false}},
 "y":{"field":"ln","type":"quantitative","axis":null,"scale":{"type":"linear","domain":[-1,0,1,2,8,9,10,16,17,18,24,25],"range":[16,31,56,82,183,211,236,337,364,391,491,504],"nice":false,"zero":false}},
 "text":{"field":"v","type":"nominal"}}},
{"data":{"name":"cells"},"transform":[{"filter":"datum.s == 'b'"}],"mark":{"type":"text","align":"center","fontWeight":"bold"},
 "encoding":{"x":{"field":"c","type":"quantitative","axis":null,"scale":{"type":"linear","domain":[-1,0,1,2,3,4,5,6,7,8,9,10,11,12,13,14,15,16,17,18,19,20,21,22,23,24,25,26,27],"range":[9,68,96.5,170.5,198,253,308,353,398,451,508,551,596,651,707,751,796,852,906,950,995,1048,1108,1157,1201,1256,1312,1356,1377],"nice":false,"zero":false}},
 "y":{"field":"ln","type":"quantitative","axis":null,"scale":{"type":"linear","domain":[-1,0,1,2,8,9,10,16,17,18,24,25],"range":[16,31,56,82,183,211,236,337,364,391,491,504],"nice":false,"zero":false}},
 "text":{"field":"v","type":"nominal"}}},
{"data":{"name":"cells"},"transform":[{"filter":"datum.s == 'u'"}],"mark":{"type":"rule","strokeWidth":1,"color":"#333","yOffset":6,
  "xOffset":{"expr":"-(length(datum.v)*7.25-3.6)/2"},"x2Offset":{"expr":"(length(datum.v)*7.25-3.6)/2"}},
 "encoding":{"x":{"field":"c","type":"quantitative","axis":null,"scale":{"type":"linear","domain":[-1,0,1,2,3,4,5,6,7,8,9,10,11,12,13,14,15,16,17,18,19,20,21,22,23,24,25,26,27],"range":[9,68,96.5,170.5,198,253,308,353,398,451,508,551,596,651,707,751,796,852,906,950,995,1048,1108,1157,1201,1256,1312,1356,1377],"nice":false,"zero":false}},"x2":{"field":"c"},
 "y":{"field":"ln","type":"quantitative","axis":null,"scale":{"type":"linear","domain":[-1,0,1,2,8,9,10,16,17,18,24,25],"range":[16,31,56,82,183,211,236,337,364,391,491,504],"nice":false,"zero":false}}}}
]
}
